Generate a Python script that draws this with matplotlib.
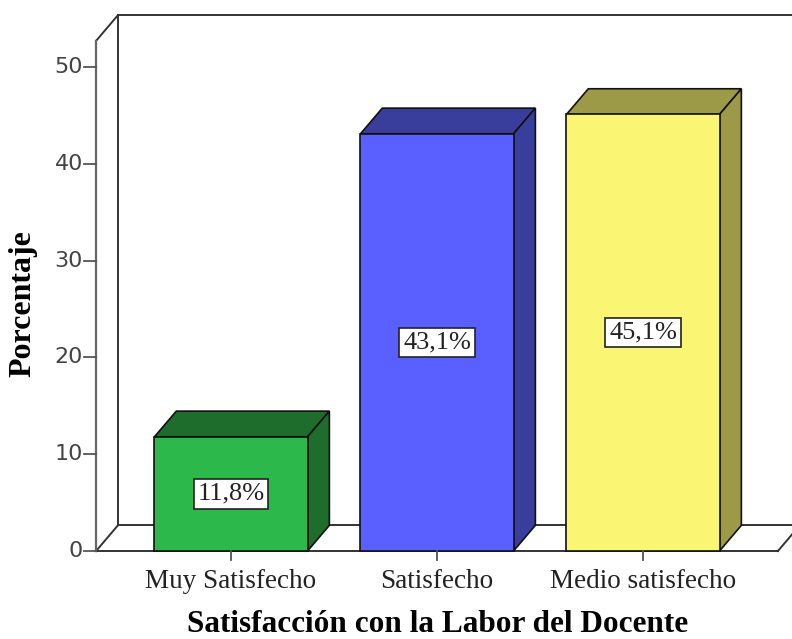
import matplotlib
matplotlib.use("Agg")
import matplotlib.pyplot as plt
from matplotlib.patches import Polygon, Rectangle

categories = ["Muy Satisfecho", "Satisfecho", "Medio satisfecho"]
values = [11.8, 43.1, 45.1]
labels = ["11,8%", "43,1%", "45,1%"]
yticks = [0, 10, 20, 30, 40, 50]

front_cols = ["#2db84b", "#5a5fff", "#faf674"]
dark_cols = ["#1f6d2c", "#393d9c", "#9c9a47"]

# 3d look
DX, DY = 0.106, 2.65
W = 0.743
X0, X1 = -0.655, 2.655
YTOP = 52.7

fig = plt.figure(figsize=(7.92, 6.39), dpi=100)
ax = fig.add_axes([0, 0, 1, 1])
ax.set_xlim(-1.1214, 2.7233)
ax.set_ylim(-9.09, 56.92)
ax.axis("off")

wall = "#333333"
# back wall / floor lines
ax.plot([X0 + DX, X0 + DX], [DY, YTOP + DY], color=wall, lw=1.4, zorder=1)
ax.plot([X0 + DX, 3.0], [YTOP + DY, YTOP + DY], color=wall, lw=1.4, zorder=1)
ax.plot([X0 + DX, X1 + DX], [DY, DY], color=wall, lw=1.4, zorder=1)
ax.plot([X0, X0 + DX], [YTOP, YTOP + DY], color=wall, lw=1.4, zorder=1)
ax.plot([X0, X0 + DX], [0, DY], color=wall, lw=1.4, zorder=1)
ax.plot([X1, X1 + DX], [0, DY], color=wall, lw=1.4, zorder=1)
ax.plot([X0, X1], [0, 0], color=wall, lw=1.4, zorder=1)
# front y axis
ax.plot([X0, X0], [0, YTOP], color="#666666", lw=1.6, zorder=5)

for t in yticks:
    ax.plot([X0 - 0.058, X0], [t, t], color="#555555", lw=1.3, zorder=5)
    ax.text(X0 - 0.064, t, str(t), ha="right", va="center", fontsize=16,
            family="DejaVu Sans", color="#444444")

for i, (v, fc, dc) in enumerate(zip(values, front_cols, dark_cols)):
    l, r = i - W / 2, i + W / 2
    ax.add_patch(Polygon([(l, v), (r, v), (r + DX, v + DY), (l + DX, v + DY)],
                         closed=True, fc=dc, ec="#111111", lw=1.2, zorder=3))
    ax.add_patch(Polygon([(r, 0), (r + DX, DY), (r + DX, v + DY), (r, v)],
                         closed=True, fc=dc, ec="#111111", lw=1.2, zorder=3))
    ax.add_patch(Rectangle((l, 0), W, v, fc=fc, ec="#111111", lw=1.2, zorder=4))
    ax.text(i, v / 2, labels[i], ha="center", va="center", fontsize=19,
            family="Liberation Serif", color="#222222", zorder=6,
            bbox=dict(boxstyle="square,pad=0.14", fc="white", ec="#222222", lw=1.2))
    ax.plot([i, i], [0, -0.9], color="#555555", lw=1.3, zorder=5)
    ax.text(i, -3.1, categories[i], ha="center", va="center", fontsize=19.5,
            family="Liberation Serif", color="#222222")

ax.text(1.005, -7.64, "Satisfacción con la Labor del Docente", ha="center", va="center",
        fontsize=22.5, fontweight="bold", family="Liberation Serif", color="black")
ax.text(-1.01, 25.6, "Porcentaje", ha="center", va="center", rotation=90,
        fontsize=23, fontweight="bold", family="Liberation Serif", color="black")

fig.savefig("out.png", dpi=100)
